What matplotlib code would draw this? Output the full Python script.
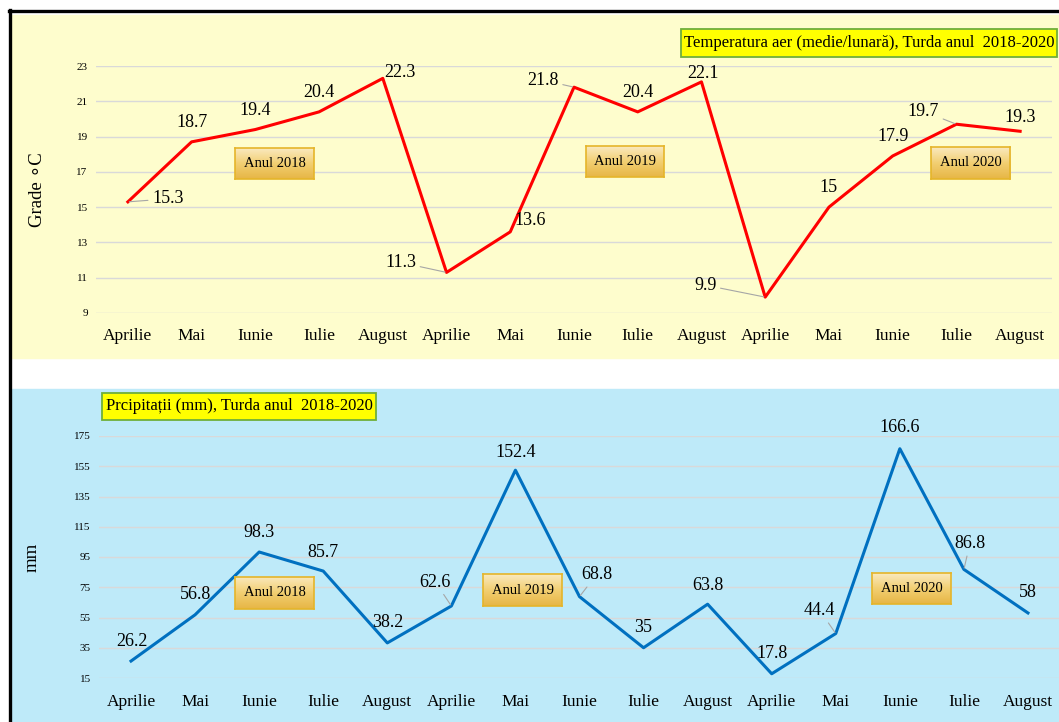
import numpy as np
import matplotlib
matplotlib.use("Agg")
import matplotlib.pyplot as plt
from matplotlib.patches import Rectangle
from matplotlib.colors import LinearSegmentedColormap

plt.rcParams['font.family'] = ['Liberation Serif', 'DejaVu Serif']

# data
months = ["Aprilie", "Mai", "Iunie", "Iulie", "August"] * 3
temp = [15.3, 18.7, 19.4, 20.4, 22.3,
        11.3, 13.6, 21.8, 20.4, 22.1,
        9.9, 15, 17.9, 19.7, 19.3]
precip = [26.2, 56.8, 98.3, 85.7, 38.2,
          62.6, 152.4, 68.8, 35, 63.8,
          17.8, 44.4, 166.6, 86.8, 58]
temp_ticks = [9, 11, 13, 15, 17, 19, 21, 23]
precip_ticks = [15, 35, 55, 75, 95, 115, 135, 155, 175]
years = ["Anul 2018", "Anul 2019", "Anul 2020"]

# label offsets in pixels (dx, dy) and whether a leader line is drawn
temp_off = [(40, 3, True), (0, 19, False), (0, 19, False), (0, 19, False), (17, 6, False),
            (-46, 10, True), (20, 11, False), (-31, 7, True), (0, 19, False), (2, 8, False),
            (-60, 12, True), (0, 20, False), (0, 19, False), (-33, 13, True), (0, 14, False)]
precip_off = [(1, 20, False), (0, 20, False), (0, 20, False), (0, 19, False), (0, 20, False),
              (-16, 24, True), (0, 18, False), (17, 22, True), (0, 20, False), (0, 19, False),
              (0, 20, False), (-16, 23, True), (0, 21, False), (6, 26, True), (0, 20, False)]

W, H = 1059, 722
fig = plt.figure(figsize=(W / 100, H / 100), dpi=100)


def rect(x0, y0, x1, y1):
    # pixel box (top-left origin) -> figure fraction [l, b, w, h]
    return [x0 / W, 1 - y1 / H, (x1 - x0) / W, (y1 - y0) / H]


# panel backgrounds and frame
fig.patches.append(Rectangle((12 / W, 1 - 358 / H), 1 - 12 / W, 343 / H,
                             transform=fig.transFigure, color="#FEFDCD", zorder=-5))
fig.patches.append(Rectangle((12 / W, 0), 1 - 12 / W, 1 - 389 / H,
                             transform=fig.transFigure, color="#BEEAF9", zorder=-5))
fig.add_artist(plt.Line2D([9 / W, 1], [1 - 11 / H, 1 - 11 / H], color="black", lw=2.4,
                          transform=fig.transFigure))
fig.add_artist(plt.Line2D([9.5 / W, 9.5 / W], [0, 1 - 10 / H], color="black", lw=2.4,
                          transform=fig.transFigure))

gold = LinearSegmentedColormap.from_list("gold", ["#FAE9BE", "#F2CF72", "#E7B646"])


def year_box(x0, y0, x1, y1, text):
    bx = fig.add_axes(rect(x0, y0, x1, y1), zorder=5)
    bx.imshow(np.linspace(0, 1, 50).reshape(-1, 1), cmap=gold, aspect="auto",
              extent=[0, 1, 0, 1], origin="upper")
    bx.set_xticks([])
    bx.set_yticks([])
    for s in bx.spines.values():
        s.set_color("#E5B52A")
        s.set_linewidth(1.2)
    bx.text(0.5, 0.5, text, ha="center", va="center", fontsize=10.5, transform=bx.transAxes)


def title_box(x0, y0, x1, y1, text):
    fig.patches.append(Rectangle((x0 / W, 1 - y1 / H), (x1 - x0) / W, (y1 - y0) / H,
                                 transform=fig.transFigure, facecolor="#FFFF00",
                                 edgecolor="#6FAF3A", lw=1.3, zorder=3))
    fig.text((x0 + x1) / 2 / W, 1 - (y0 + y1) / 2 / H, text, ha="center", va="center",
             fontsize=12, zorder=4)


def draw_panel(ax, values, offsets, color, ticks, xpad):
    x = np.arange(len(values))
    ax.plot(x, values, color=color, lw=2.2, zorder=3)
    ax.set_facecolor("none")
    ax.set_xlim(-0.5, len(values) - 0.5)
    ax.set_ylim(ticks[0], ticks[-1])
    ax.set_yticks(ticks)
    ax.set_xticks(x)
    ax.set_xticklabels(months, fontsize=12.5)
    ax.tick_params(axis="x", length=0, pad=xpad)
    ax.tick_params(axis="y", length=0, pad=6, labelsize=8)
    ax.grid(axis="y", color="#D9D9D9", lw=1)
    ax.set_axisbelow(True)
    for s in ax.spines.values():
        s.set_visible(False)
    for xi, v, (dx, dy, lead) in zip(x, values, offsets):
        props = dict(arrowstyle="-", color="#A6A6A6", lw=0.8, shrinkA=1, shrinkB=1) if lead else None
        ax.annotate(f"{v:g}", (xi, v), xytext=(dx, dy), textcoords="offset pixels",
                    ha="center", va="center", fontsize=13, arrowprops=props, zorder=4,
                    annotation_clip=False)


# temperature panel
ax1 = fig.add_axes(rect(96, 66, 1052, 313))
draw_panel(ax1, temp, temp_off, "#FF0000", temp_ticks, 10.5)
ax1.set_ylabel("Grade ∘C", fontsize=13.5, labelpad=22, family=["Liberation Serif", "DejaVu Sans"])

# precipitation panel
ax2 = fig.add_axes(rect(99, 436, 1060, 678))
draw_panel(ax2, precip, precip_off, "#0070C0", precip_ticks, 11.5)
ax2.set_ylabel("mm", fontsize=13.5, labelpad=24)

title_box(681, 29, 1057, 57, "Temperatura aer (medie/lunară), Turda anul  2018-2020")
title_box(102, 393, 376, 420, "Prcipitații (mm), Turda anul  2018-2020")

year_box(235, 148, 314, 179, years[0])
year_box(586, 146, 664, 177, years[1])
year_box(931, 147, 1010, 179, years[2])
year_box(235, 577, 314, 609, years[0])
year_box(483, 574, 562, 606, years[1])
year_box(872, 573, 951, 604, years[2])

fig.savefig("out.png", dpi=100)
